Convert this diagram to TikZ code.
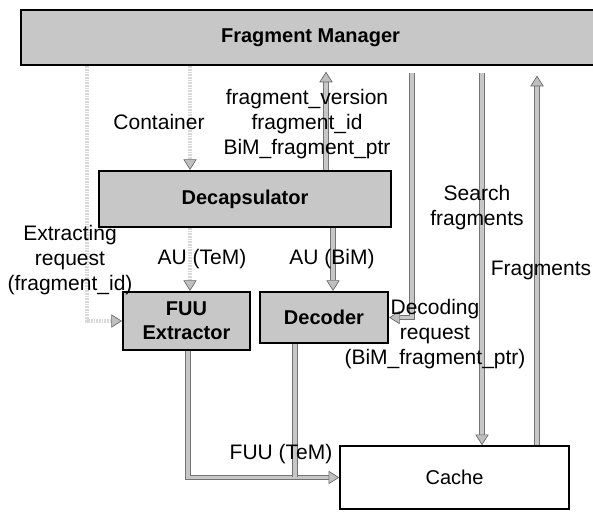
\documentclass[tikz,border=0pt]{standalone}
\usepackage{fontspec}
\setmainfont{Liberation Sans}
\usetikzlibrary{arrows.meta}
\begin{document}
\begin{tikzpicture}[x=0.75pt,y=-0.75pt,
  box/.style={draw=black,line width=1.6pt,fill=black!22,inner sep=0pt,align=center,
    font=\fontsize{15}{18}\selectfont\bfseries},
  whitebox/.style={draw=black,line width=1.2pt,fill=white,inner sep=0pt,align=center,
    font=\fontsize{15}{18}\selectfont},
  lbl/.style={inner sep=0pt,align=center,font=\fontsize{15.75}{18.75}\selectfont},
  tip/.style={-{Triangle[length=8pt,width=10pt,line width=0.5pt,color=black!60,fill=black!25]}},
  flow/.style={draw=black!55,double=black!22,double distance=2.4pt,line width=0.7pt},
  dflow/.style={draw=black!50,double=black!15,double distance=2.4pt,line width=0.6pt,
    dash pattern=on 1.2pt off 0.8pt}]
\path[use as bounding box] (0,0) rectangle (593,523);
\clip (0,0) rectangle (593,523);
% boxes
\node[box,minimum width=434.25pt,minimum height=41.25pt,line width=2pt] (fm) at (310.5,37.5) {Fragment Manager};
\node[box,minimum width=219pt,minimum height=42pt] (dec) at (245,199) {Decapsulator};
\node[box,minimum width=95.25pt,minimum height=43.5pt] (fuu) at (186.5,321) {FUU\\Extractor};
\node[box,minimum width=96pt,minimum height=38.25pt] (decoder) at (324,317.5) {Decoder};
\node[whitebox,minimum width=171.75pt,minimum height=47.25pt] (cache) at (454.5,477.5) {Cache};
% x positions of the connectors
\coordinate (xE) at (87,0);
\coordinate (xC) at (190,0);
\coordinate (xU) at (326,0);
\coordinate (xB) at (333,0);
\coordinate (xD) at (412,0);
\coordinate (xS) at (482,0);
\coordinate (xF) at (537,0);
\coordinate (xO) at (188,0);
\coordinate (xP) at (295,0);
% connectors
\draw[dflow,tip] (fm.south -| xE) |- (fuu.west);
\draw[dflow,tip] (fm.south -| xC) -- (dec.north -| xC);
\draw[flow,tip,shorten >=4pt] (dec.north -| xU) -- (fm.south -| xU);
\draw[dflow,tip] (dec.south -| xC) -- (fuu.north -| xC);
\draw[flow,tip] (dec.south -| xB) -- (decoder.north -| xB);
\draw[flow,tip,shorten <=5pt] (fm.south -| xD) |- (decoder.east);
\draw[flow,tip,shorten <=5pt] (fm.south -| xS) -- (cache.north -| xS);
\draw[flow,tip,shorten >=7pt] (cache.north -| xF) -- (fm.south -| xF);
\draw[flow,tip] (fuu.south -| xO) |- (cache.west);
\coordinate (join) at (xP |- cache.west);
\draw[flow] (decoder.south -| xP) -- (join);
% labels
\node[lbl] (lcont) at (159,122) {Container};
\node[lbl] (lfrag) at (307,124) {fragment\_version\\fragment\_id\\BiM\_fragment\_ptr};
\node[lbl] (lext) at (70,260) {Extracting\\request\\(fragment\_id)};
\node[lbl] (lau1) at (202,259) {AU (TeM)};
\node[lbl] (lau2) at (332,259) {AU (BiM)};
\node[lbl] (lsearch) at (477,207.5) {Search\\fragments};
\node[lbl] (lfrags) at (541,270) {Fragments};
\node[lbl] (ldec) at (435,334) {Decoding\\request\\(BiM\_fragment\_ptr)};
\node[lbl] (lfuu) at (281,454) {FUU (TeM)};
\end{tikzpicture}
\end{document}
